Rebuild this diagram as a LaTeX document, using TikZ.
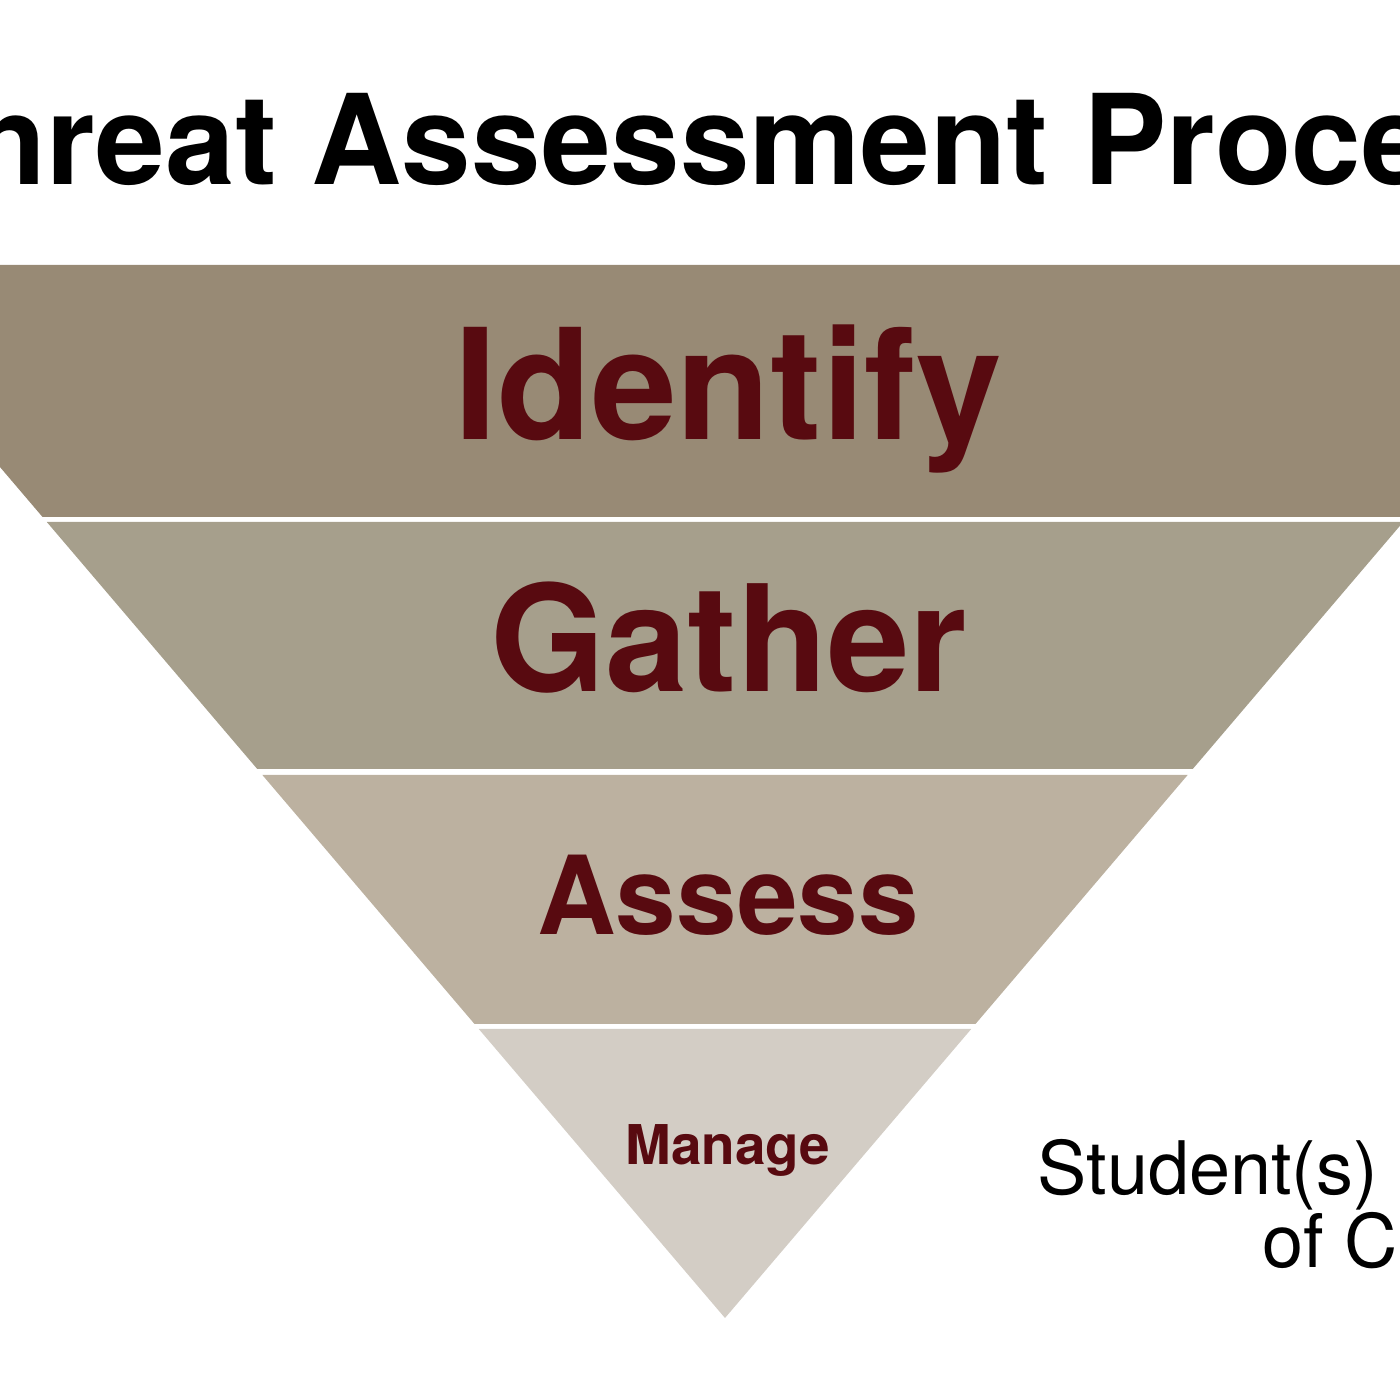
\documentclass[tikz,border=0pt]{standalone}
\usepackage{fontspec}
\setmainfont{TeX Gyre Heros}
\definecolor{bandA}{HTML}{988A75}
\definecolor{bandB}{HTML}{A69F8C}
\definecolor{bandC}{HTML}{BCB1A0}
\definecolor{bandD}{HTML}{D3CDC5}
\definecolor{maroon}{HTML}{580A10}
\tikzset{
  step label/.style={anchor=base, inner sep=0pt, text=maroon, font=\bfseries},
  side label/.style={anchor=base west, inner sep=0pt, font=\fontsize{21}{25}\selectfont}
}
\begin{document}
\begin{tikzpicture}
\useasboundingbox (0,0) rectangle (14,14);
\clip (0,0) rectangle (14,14);

% apex at (7.25,.82), half width grows .852 per cm
\foreach \t/\b/\c in {11.35/8.83/bandA, 8.78/6.31/bandB, 6.25/3.76/bandC, 3.71/.82/bandD}
{
    \fill[\c] ({7.25-.852*(\t-.82)},\t) -- ({7.25+.852*(\t-.82)},\t)
        -- ({7.25+.852*(\b-.82)},\b) -- ({7.25-.852*(\b-.82)},\b) -- cycle;
}

\node (title) at (7.32,12.15) [anchor=base, inner sep=0pt, font=\bfseries\fontsize{35.6}{40}\selectfont]{Threat Assessment Process};

\node (identify) at (7.28,9.60) [step label, font=\bfseries\fontsize{43.8}{50}\selectfont]{Identify};
\node (gather) at (7.29,7.08) [step label, font=\bfseries\fontsize{42.1}{48}\selectfont]{Gather};
\node (assess) at (7.28,4.65) [step label, font=\bfseries\fontsize{31}{36}\selectfont]{Assess};
\node (manage) at (7.28,2.35) [step label, font=\bfseries\fontsize{15.6}{18}\selectfont]{Manage};

\node (students) at (10.37,2.05) [side label]{Student(s) \& Situations};
\node (concern) at (12.62,1.32) [side label]{of Concern};

\end{tikzpicture}
\end{document}
